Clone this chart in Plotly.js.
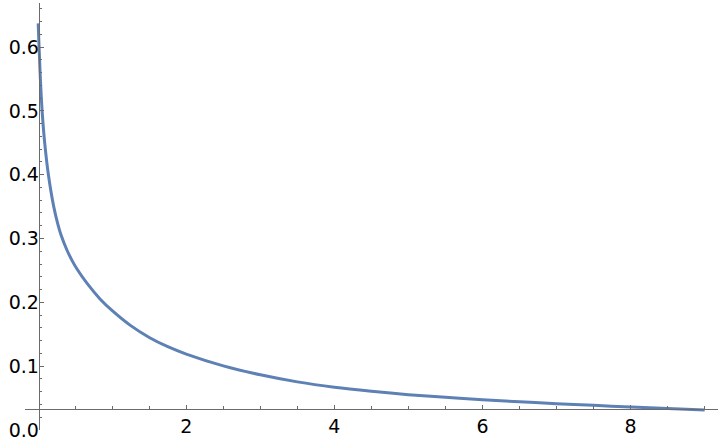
<!DOCTYPE html>
<html>
<head>
<meta charset="utf-8">
<script src="https://cdn.plot.ly/plotly-3.0.1.min.js"></script>
<style>html,body{margin:0;padding:0;background:#fff;}#chart{width:720px;height:444px;}</style>
</head>
<body>
<div id="chart"></div>
<script>
// Curve values
const xs = [0, 0.012, 0.03, 0.053, 0.088, 0.138, 0.21, 0.26, 0.31, 0.388, 0.46, 0.52, 0.658, 0.838, 1.0, 1.25, 1.5, 1.75, 2.0, 2.5, 3.0, 3.5, 4.0, 4.5, 5.0, 5.5, 6.0, 6.5, 7.0, 7.5, 8.0, 8.5, 9.0];
const ys = [0.637, 0.600, 0.550, 0.500, 0.450, 0.400, 0.350, 0.325, 0.305, 0.282, 0.265, 0.253, 0.230, 0.205, 0.187, 0.1635, 0.1450, 0.1305, 0.1190, 0.1005, 0.0865, 0.0754, 0.0670, 0.0607, 0.0554, 0.0512, 0.0473, 0.0441, 0.0413, 0.0386, 0.0360, 0.0335, 0.0312];

// Tick values and labels
const xTickVals = [2, 4, 6, 8];
const xTickText = ["2", "4", "6", "8"];
const xMinorVals = [0.5, 1, 1.5, 2.5, 3, 3.5, 4.5, 5, 5.5, 6.5, 7, 7.5, 8.5, 9];
const yTickVals = [0, 0.1, 0.2, 0.3, 0.4, 0.5, 0.6];
const yTickText = ["0.0", "0.1", "0.2", "0.3", "0.4", "0.5", "0.6"];
const yMinorVals = [0.02, 0.04, 0.06, 0.08, 0.12, 0.14, 0.16, 0.18, 0.22, 0.24, 0.26, 0.28, 0.32, 0.34, 0.36, 0.38, 0.42, 0.44, 0.46, 0.48, 0.52, 0.54, 0.56, 0.58, 0.62, 0.64, 0.66];

const axisColor = '#6b6b6b';

const trace = {
  x: xs, y: ys, type: 'scatter', mode: 'lines',
  line: {color: 'rgb(94,129,181)', width: 3, shape: 'spline', smoothing: 1},
  hoverinfo: 'none', cliponaxis: false
};

const layout = {
  width: 720, height: 444,
  margin: {l: 25, r: 2, t: 3, b: 14},
  paper_bgcolor: '#fff', plot_bgcolor: '#fff',
  showlegend: false,
  font: {family: 'DejaVu Sans', size: 19, color: '#000'},
  xaxis: {
    range: [-0.178, 9.18],
    anchor: 'free', position: 0.0492,
    showgrid: false, zeroline: false,
    showline: true, linecolor: axisColor, linewidth: 1.2,
    ticks: 'inside', ticklen: 4, tickwidth: 1, tickcolor: axisColor,
    tickmode: 'array', tickvals: xTickVals, ticktext: xTickText,
    minor: {tickmode: 'array', tickvals: xMinorVals, ticks: 'inside', ticklen: 2.5, tickcolor: axisColor, tickwidth: 1, showgrid: false},
    tickfont: {family: 'DejaVu Sans', size: 19, color: '#000'},
    automargin: false
  },
  yaxis: {
    range: [0, 0.669],
    anchor: 'free', position: 0.0198,
    showgrid: false, zeroline: false,
    showline: true, linecolor: axisColor, linewidth: 1.2,
    ticks: 'inside', ticklen: 4.5, tickwidth: 1, tickcolor: axisColor,
    tickmode: 'array', tickvals: yTickVals, ticktext: yTickText,
    ticklabelstandoff: -4,
    minor: {tickmode: 'array', tickvals: yMinorVals, ticks: 'inside', ticklen: 2.5, tickcolor: axisColor, tickwidth: 1, showgrid: false},
    tickfont: {family: 'DejaVu Sans', size: 19, color: '#000'},
    automargin: false
  }
};

Plotly.newPlot('chart', [trace], layout, {staticPlot: true, displayModeBar: false});
</script>
</body>
</html>
